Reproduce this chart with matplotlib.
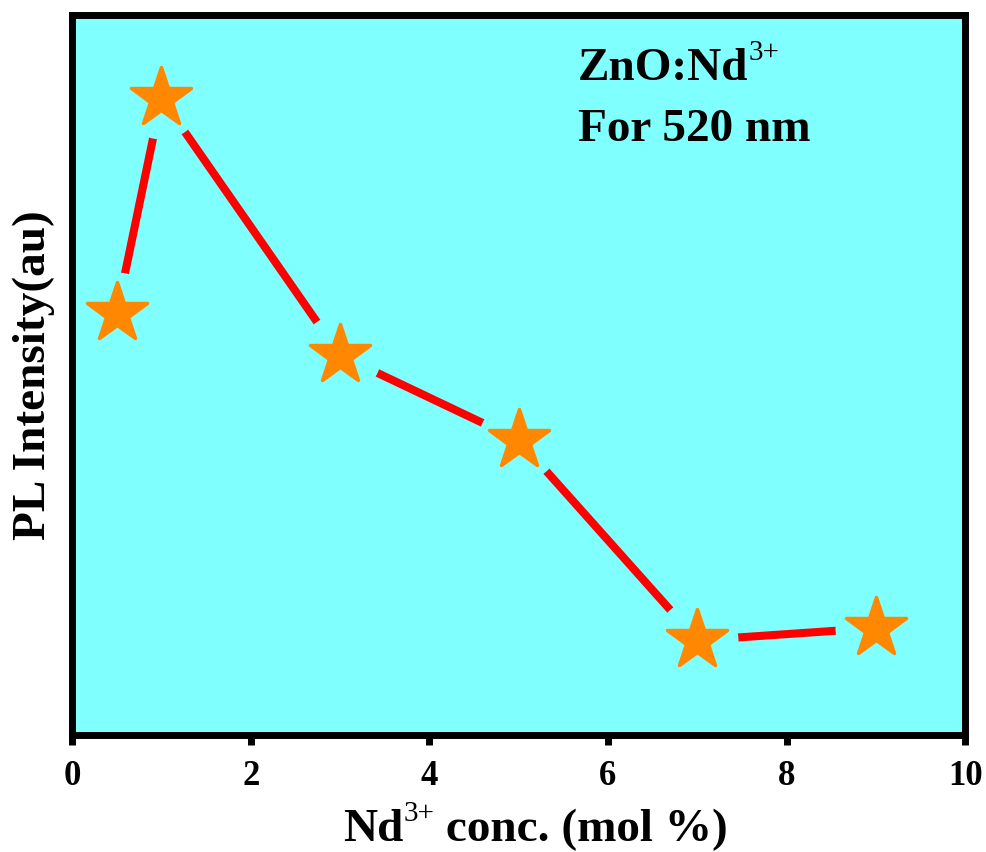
import matplotlib
matplotlib.use("Agg")
import matplotlib.pyplot as plt
from matplotlib.markers import MarkerStyle

# Data
conc = [0.5, 1, 3, 5, 7, 9]
intensity = [58.6, 88.5, 52.8, 41.0, 13.2, 14.9]
xticks = [0, 2, 4, 6, 8, 10]

plt.rcParams['font.family'] = ['Liberation Serif', 'DejaVu Serif']
plt.rcParams['font.weight'] = 'bold'

fig = plt.figure(figsize=(9.87, 8.52), dpi=100)
ax = fig.add_axes([0.073, 0.137, 0.905, 0.845])
bg = '#80FFFF'
ax.set_facecolor(bg)

ax.plot(conc, intensity, color='#FF0000', lw=5.8, zorder=2, solid_capstyle='butt')
ax.plot(conc, intensity, ls='none', marker='o', ms=59, mfc=bg, mec='none', zorder=3)
star = MarkerStyle('*', joinstyle='round')
ax.plot(conc, intensity, ls='none', marker=star, ms=45, mfc='#FF8800', mec='#FF8800',
        mew=2.5, zorder=4)

ax.set_xlim(0, 10)
ax.set_ylim(0, 100)
ax.set_xticks(xticks)
ax.set_xticklabels([str(t) for t in xticks], fontsize=25, fontweight='bold')
ax.set_yticks([])
ax.tick_params(axis='x', direction='out', length=7.5, width=5, pad=10)

for s in ax.spines.values():
    s.set_linewidth(5)
    s.set_zorder(5)

ax.set_ylabel('PL Intensity(au)', fontsize=34, fontweight='bold', labelpad=12)

# x label built from pieces (superscript)
fs_main = 34
fs_sup = 21
x1 = fig.text(343 / 987, 1 - 841 / 852, 'Nd', fontsize=fs_main, fontweight='bold',
              ha='left', va='baseline')
x2 = ax.annotate('3+', xy=(1, 1), xycoords=x1, xytext=(0, 6), textcoords='offset points',
                 fontsize=fs_sup, fontweight='normal', ha='left', va='top',
                 annotation_clip=False)
x3 = ax.annotate(' conc. (mol %)', xy=(1, 0), xycoords=(x2, x1), fontsize=fs_main,
                 fontweight='bold', ha='left', va='bottom', annotation_clip=False)

# annotation in the plot
a1 = ax.text(0.5666, 0.9097, 'ZnO:Nd', transform=ax.transAxes, fontsize=fs_main,
             fontweight='bold', ha='left', va='baseline')
ax.annotate('3+', xy=(1, 1), xycoords=a1, xytext=(0, 6), textcoords='offset points',
            fontsize=fs_sup, fontweight='normal', ha='left', va='top')
ax.text(0.5666, 0.826, 'For 520 nm', transform=ax.transAxes, fontsize=fs_main,
        fontweight='bold', ha='left', va='baseline')

fig.savefig('out.png', dpi=100)
